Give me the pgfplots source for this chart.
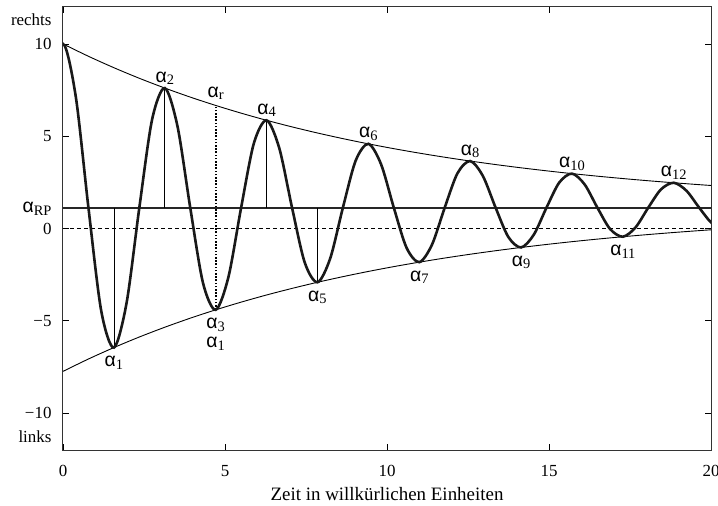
\documentclass[border=0pt]{standalone}
\usepackage{pgfplots}
\pgfplotsset{compat=1.18}
\usepackage{fontspec}
\setmainfont{Liberation Serif}
\newfontfamily\grk{Liberation Sans}
\newcommand{\al}[1]{{\grk\fontsize{19.5}{19.5}\selectfont α}{\fontsize{14.5}{14.5}\selectfont\raisebox{-2.5bp}{#1}}}
\newcommand{\alrp}{{\grk\fontsize{19.5}{19.5}\selectfont α}\smash{\fontsize{14.5}{14.5}\selectfont\raisebox{-3bp}{RP}}}
\begin{document}
\begin{tikzpicture}
\begin{axis}[
  scale only axis, width=648bp, height=443bp,
  xmin=0, xmax=20, ymin=-12, ymax=12,
  xtick={0,5,10,15,20}, xticklabels={0,5,10,15,20},
  ytick={-10,-5,0,5,10}, yticklabels={−10,−5,0,5,10},
  tick align=inside, major tick length=6bp,
  tick style={black, line width=0.7bp},
  axis line style={line width=1bp, black!80},
  tick label style={font=\fontsize{17}{17}\selectfont},
  yticklabel style={xshift=-8bp},
  xticklabel style={yshift=-12bp},
  xlabel={Zeit in willkürlichen Einheiten},
  xlabel style={font=\fontsize{19}{19}\selectfont, yshift=-4bp},
  extra y ticks={11.3,1.13,-11.3},
  extra y tick labels={rechts,\alrp,links},
  extra y tick style={major tick length=0pt},
]
% zero line
\addplot[line width=0.9bp, black, dash pattern=on 4bp off 3bp] coordinates {(0,0) (20,0)};
% rest position line
\addplot[line width=1.8bp, black!85] coordinates {(0,1.13) (20,1.13)};
% thin vertical lines
\addplot[line width=0.8bp, black] coordinates {(1.571,1.13) (1.571,-6.451)};
\addplot[line width=0.8bp, black] coordinates {(3.142,1.13) (3.142,7.609)};
\addplot[line width=0.8bp, black] coordinates {(6.283,1.13) (6.283,5.862)};
\addplot[line width=0.8bp, black] coordinates {(7.854,1.13) (7.854,-2.914)};
% dotted vertical line
\addplot[line width=2bp, black, dash pattern=on 1.6bp off 1.6bp] coordinates {(4.712,-4.407) (4.712,6.667)};
% upper envelope
\addplot[line width=0.9bp, black, smooth] coordinates {
(0.000,10.000) (0.785,9.330) (1.571,8.711) (2.356,8.138) (3.142,7.609) (3.927,7.119)
(4.712,6.667) (5.498,6.249) (6.283,5.862) (7.069,5.505) (7.854,5.174) (8.639,4.869)
(9.425,4.586) (10.210,4.325) (10.996,4.084) (11.781,3.861) (12.566,3.655) (13.352,3.464)
(14.137,3.288) (14.923,3.125) (15.708,2.974) (16.493,2.835) (17.279,2.706) (18.064,2.587)
(18.850,2.477) (19.635,2.375) (20.028,2.327)};
% lower envelope
\addplot[line width=0.9bp, black, smooth] coordinates {
(0.000,-7.740) (0.785,-7.070) (1.571,-6.451) (2.356,-5.878) (3.142,-5.349) (3.927,-4.859)
(4.712,-4.407) (5.498,-3.989) (6.283,-3.602) (7.069,-3.245) (7.854,-2.914) (8.639,-2.609)
(9.425,-2.326) (10.210,-2.065) (10.996,-1.824) (11.781,-1.601) (12.566,-1.395) (13.352,-1.204)
(14.137,-1.028) (14.923,-0.865) (15.708,-0.714) (16.493,-0.575) (17.279,-0.446) (18.064,-0.327)
(18.850,-0.217) (19.635,-0.115) (20.028,-0.067)};
% damped oscillation
\addplot[line width=2.6bp, black!90, smooth] coordinates {
(-0.393,7.160) (0.000,10.000) (0.393,7.160) (0.785,1.130) (1.178,-4.445) (1.571,-6.451) (1.963,-4.024)
(2.356,1.130) (2.749,5.895) (3.142,7.609) (3.534,5.535) (3.927,1.130) (4.320,-2.942)
(4.712,-4.407) (5.105,-2.634) (5.498,1.130) (5.890,4.610) (6.283,5.862) (6.676,4.347)
(7.069,1.130) (7.461,-1.844) (7.854,-2.914) (8.247,-1.620) (8.639,1.130) (9.032,3.672)
(9.425,4.586) (9.817,3.480) (10.210,1.130) (10.603,-1.042) (10.996,-1.824) (11.388,-0.878)
(11.781,1.130) (12.174,2.987) (12.566,3.655) (12.959,2.846) (13.352,1.130) (13.744,-0.457)
(14.137,-1.028) (14.530,-0.337) (14.923,1.130) (15.315,2.486) (15.708,2.974) (16.101,2.384)
(16.493,1.130) (16.886,-0.029) (17.279,-0.446) (17.671,0.059) (18.064,1.130) (18.457,2.120)
(18.850,2.477) (19.242,2.046) (19.635,1.130) (20.028,0.284) (20.420,-0.009)};
% labels
\node[anchor=base, yshift=-19bp] at (axis cs:1.571,-6.451) {\al{1}};
\node[anchor=base, yshift=6bp] at (axis cs:3.142,7.609) {\al{2}};
\node[anchor=base, yshift=8bp] at (axis cs:4.712,6.667) {\al{r}};
\node[anchor=base, yshift=-19bp] at (axis cs:4.712,-4.407) {\al{3}};
\node[anchor=base, yshift=-38bp] at (axis cs:4.712,-4.407) {\al{1}};
\node[anchor=base, yshift=6bp] at (axis cs:6.283,5.862) {\al{4}};
\node[anchor=base, yshift=-19bp] at (axis cs:7.854,-2.914) {\al{5}};
\node[anchor=base, yshift=6bp] at (axis cs:9.425,4.586) {\al{6}};
\node[anchor=base, yshift=-19bp] at (axis cs:10.996,-1.824) {\al{7}};
\node[anchor=base, yshift=6bp] at (axis cs:12.566,3.655) {\al{8}};
\node[anchor=base, yshift=-19bp] at (axis cs:14.137,-1.028) {\al{9}};
\node[anchor=base, yshift=6bp] at (axis cs:15.708,2.974) {\al{10}};
\node[anchor=base, yshift=-19bp] at (axis cs:17.279,-0.446) {\al{11}};
\node[anchor=base, yshift=6bp] at (axis cs:18.850,2.477) {\al{12}};
\end{axis}
\pgfresetboundingbox
\path[use as bounding box] (-63bp,-56bp) rectangle (655bp,450bp);
\end{tikzpicture}
\end{document}
